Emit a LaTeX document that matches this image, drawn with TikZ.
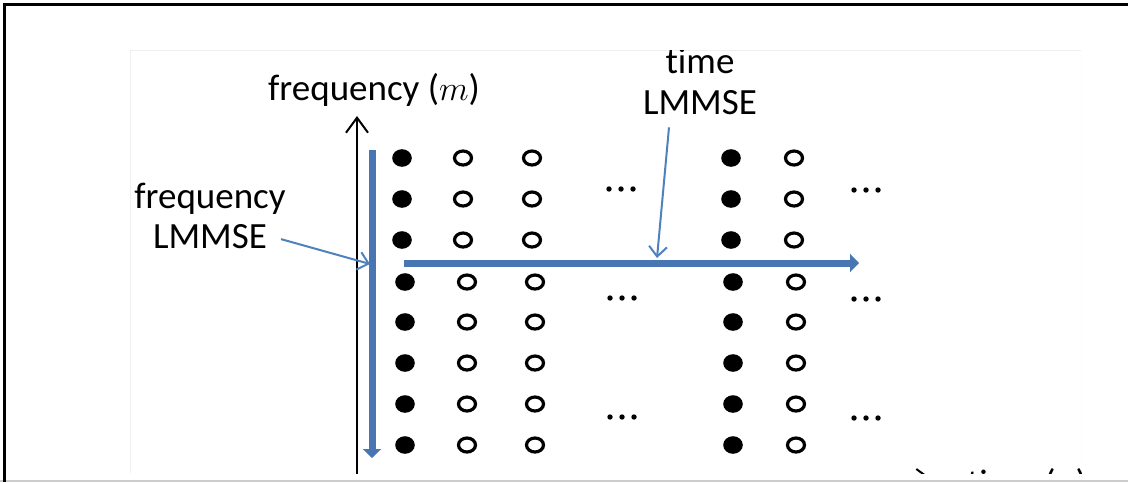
\documentclass[tikz,border=0pt]{standalone}
\usepackage{fontspec}
\setmainfont{Carlito}[Ligatures=NoCommon]
\usetikzlibrary{arrows.meta}
\definecolor{barblue}{RGB}{72,118,178}
\definecolor{thinblue}{RGB}{79,129,189}

\begin{document}
\begin{tikzpicture}[x=0.5pt, y=-0.5pt, font=\fontsize{18.5}{20}\selectfont,
	taxis/.style={line width=1pt, -{Straight Barb[length=7.5pt, width=11pt]}},
	lmbar/.style={barblue, line width=3.5pt, -{Triangle[length=4.5pt, width=9pt]}},
	callout/.style={thinblue, line width=1pt, -{Straight Barb[length=5pt, width=9pt]}},
	datadot/.style={draw=black, line width=1.6pt}]
	\useasboundingbox (0,0) rectangle (1128,482);
	% frame of the screenshot
	\draw[black!20, line width=1pt] (0,481) -- (1128,481);
	\draw[line width=1.5pt] (4,482) -- (4,4) -- (1128,4);
	\begin{scope}
	\clip (130,50) rectangle (1081,473);
	\draw[black!6] (130,473) -- (130,50) -- (1081,50) -- (1081,473);
	% axes
	\coordinate (ybot) at (357,490);
	\coordinate (ytop) at (357,116);
	\coordinate (xleft) at (357,480);
	\coordinate (xright) at (933,480);
	\draw[taxis] (ybot) -- (ytop);
	\draw[taxis] (xleft) -- (xright);
	\node[anchor=base] (ylab) at (374,100) {frequency ($m$)};
	\node[anchor=base west] (xlab) at (960,495) {time ($n$)};
	% pilot (filled) and data (open) symbols
	\foreach \y in {158,199,240} {
		\foreach \x in {402,731} \fill (\x,\y) ellipse [x radius=9.8, y radius=8.8];
		\foreach \x in {463,532,794} \draw[datadot] (\x,\y) ellipse [x radius=8.5, y radius=7];
	}
	\foreach \y in {282,322,363,404,445} {
		\foreach \x in {405,733} \fill (\x,\y) ellipse [x radius=9.8, y radius=8.8];
		\foreach \x in {467,535,796} \draw[datadot] (\x,\y) ellipse [x radius=8.5, y radius=7];
	}
	\foreach \ex/\ey in {621/189,866/190,622/298,866/299,622/417,866/418}
		\foreach \d in {-12,0,12} \fill (\ex+\d,\ey) circle [radius=2.7];
	% interpolation directions
	\coordinate (vtop) at (372,150);
	\coordinate (vbot) at (372,458);
	\coordinate (hleft) at (404,263);
	\coordinate (hright) at (859,263);
	\draw[lmbar] (vtop) -- (vbot);
	\draw[lmbar] (hleft) -- (hright);
	\node[anchor=base] (flab1) at (210,208) {frequency};
	\node[anchor=base] (flab2) at (210,248) {LMMSE};
	\node[anchor=base] (tlab1) at (700,73) {time};
	\node[anchor=base] (tlab2) at (700,114) {LMMSE};
	\coordinate (fhit) at (370,264);
	\coordinate (thit) at (657,258);
	\draw[callout] ([shift={(7,3)}]flab2.east) -- (fhit);
	\draw[callout] ([shift={(-31,6)}]tlab2.south) -- (thit);
	\end{scope}
\end{tikzpicture}
\end{document}
